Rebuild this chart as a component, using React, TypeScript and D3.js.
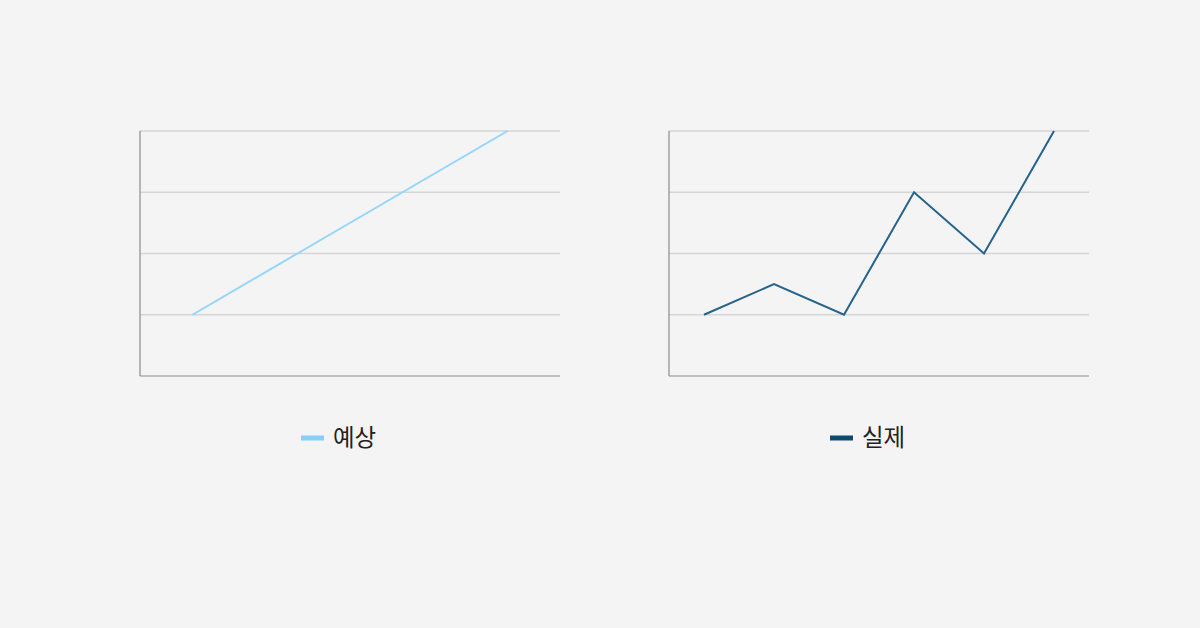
import React, { useEffect, useRef } from 'react';
import * as d3 from 'd3';

// 예상 (forecast) — left panel
const forecastCategories = ['1', '2', '3', '4'];
const forecastValues = [1, 2, 3, 4];

// 실제 (actual) — right panel
const actualCategories = ['1', '2', '3', '4', '5', '6'];
const actualValues = [1, 1.5, 1, 3, 2, 4];

const yTicks = [0, 1, 2, 3, 4];

interface PanelProps {
  g: d3.Selection<SVGGElement, unknown, null, undefined>;
  categories: string[];
  values: number[];
  lineColor: string;
  swatchColor: string;
  label: string;
  legendX: number;
}

const width = 420;
const height = 245;

function drawPanel({ g, categories, values, lineColor, swatchColor, label, legendX }: PanelProps) {
  const x = d3.scalePoint<string>().domain(categories).range([0, width]).padding(0.5);
  const y = d3.scaleLinear().domain([0, 4]).range([height, 0]);

  // 그리드
  g.selectAll('.grid')
    .data(yTicks.slice(1))
    .enter()
    .append('line')
    .attr('x1', 0)
    .attr('x2', width)
    .attr('y1', d => y(d))
    .attr('y2', d => y(d))
    .attr('stroke', '#d5d5d5')
    .attr('stroke-width', 1.5);

  // 축
  g.append('line')
    .attr('x1', 0).attr('x2', 0)
    .attr('y1', 0).attr('y2', height)
    .attr('stroke', '#8a8a8a')
    .attr('stroke-width', 1.2);
  g.append('line')
    .attr('x1', 0).attr('x2', width)
    .attr('y1', height).attr('y2', height)
    .attr('stroke', '#8a8a8a')
    .attr('stroke-width', 1.2);

  const line = d3
    .line<number>()
    .x((_, i) => x(categories[i]) as number)
    .y(d => y(d));

  g.append('path')
    .datum(values)
    .attr('d', line)
    .attr('fill', 'none')
    .attr('stroke', lineColor)
    .attr('stroke-width', 2);

  // 범례
  const lg = g.append('g').attr('transform', `translate(${legendX},${height + 62})`);
  lg.append('line')
    .attr('x1', 0).attr('x2', 23)
    .attr('y1', 0).attr('y2', 0)
    .attr('stroke', swatchColor)
    .attr('stroke-width', 5);
  lg.append('text')
    .attr('x', 32)
    .attr('y', 0)
    .attr('dy', '0.35em')
    .style('font-family', '"Noto Sans CJK KR", "Noto Sans", sans-serif')
    .style('font-size', '23.5px')
    .style('fill', '#222')
    .text(label);
}

export default function App() {
  const svgRef = useRef<SVGSVGElement>(null);

  useEffect(() => {
    const svg = d3.select(svgRef.current);
    svg.selectAll('*').remove();

    svg.append('rect').attr('width', 1200).attr('height', 628).attr('fill', '#f4f4f4');

    const left = svg.append('g').attr('transform', 'translate(140,131)');
    drawPanel({
      g: left,
      categories: forecastCategories,
      values: forecastValues,
      lineColor: '#93d5fb',
      swatchColor: '#86cff9',
      label: '예상',
      legendX: 161,
    });

    const right = svg.append('g').attr('transform', 'translate(669,131)');
    drawPanel({
      g: right,
      categories: actualCategories,
      values: actualValues,
      lineColor: '#24638b',
      swatchColor: '#0d4a70',
      label: '실제',
      legendX: 161,
    });
  }, []);

  return (
    <div style={{ position: 'fixed', left: 0, top: 0 }}>
      <svg ref={svgRef} width={1200} height={628} style={{ display: 'block' }}></svg>
    </div>
  );
}
